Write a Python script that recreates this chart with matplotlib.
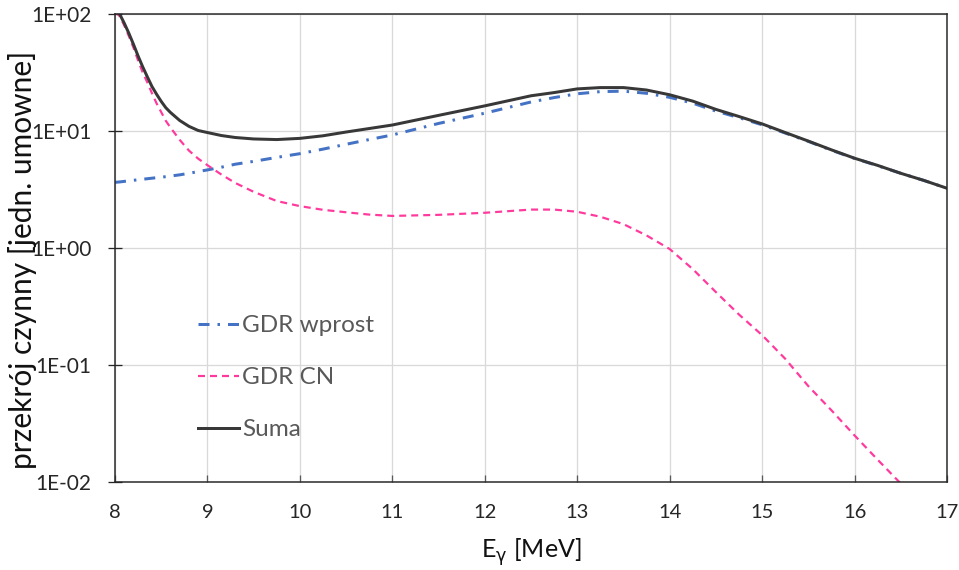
import matplotlib
matplotlib.use("Agg")
import matplotlib.pyplot as plt
from matplotlib.ticker import FixedLocator, FixedFormatter, NullLocator

plt.rcParams['font.family'] = ['Lato', 'DejaVu Sans']
plt.rcParams['lines.scale_dashes'] = False

# ---- data ----
energy = [8.0, 8.05, 8.1, 8.15, 8.2, 8.25, 8.3, 8.35, 8.4, 8.45, 8.5, 8.55, 8.6,
          8.7, 8.8, 8.9, 9.0, 9.15, 9.3, 9.5, 9.75, 10.0, 10.25, 10.5, 10.75,
          11.0, 11.5, 12.0, 12.5, 12.75, 13.0, 13.25, 13.5, 13.75, 14.0, 14.25,
          14.5, 14.75, 15.0, 15.25, 15.5, 15.75, 16.0, 16.25, 16.5, 16.75, 17.0]
gdr_wprost = [3.64, 3.67, 3.71, 3.75, 3.79, 3.83, 3.87, 3.91, 3.95, 3.99, 4.03, 4.07, 4.12,
              4.22, 4.35, 4.5, 4.65, 4.9, 5.2, 5.5, 5.95, 6.4, 7.0, 7.7, 8.45,
              9.25, 11.6, 14.2, 17.7, 19.3, 20.8, 21.7, 21.9, 21.0, 19.4, 17.3,
              14.8, 13.0, 11.3, 9.6, 8.15, 6.85, 5.83, 5.05, 4.35, 3.78, 3.24]
gdr_cn = [104.0, 96.0, 79.8, 64.7, 51.5, 40.0, 31.5, 26.0, 21.0, 17.2, 14.5, 12.2, 10.7,
          8.4, 6.8, 5.8, 5.1, 4.25, 3.6, 3.02, 2.52, 2.28, 2.12, 2.02, 1.93,
          1.88, 1.92, 2.0, 2.13, 2.13, 2.04, 1.85, 1.6, 1.28, 0.98, 0.66,
          0.42, 0.27, 0.18, 0.113, 0.066, 0.041, 0.025, 0.0155, 0.0097, 0.006, 0.0036]
suma = [108.0, 100.0, 83.5, 68.4, 55.0, 43.7, 35.3, 29.0, 24.0, 20.6, 17.9, 15.8, 14.4,
        12.3, 10.96, 10.1, 9.7, 9.15, 8.8, 8.55, 8.45, 8.65, 9.1, 9.8, 10.5,
        11.25, 13.6, 16.4, 20.0, 21.3, 22.9, 23.5, 23.5, 22.4, 20.4, 18.0,
        15.3, 13.3, 11.5, 9.7, 8.2, 6.9, 5.85, 5.08, 4.35, 3.78, 3.24]

x_ticks = [8, 9, 10, 11, 12, 13, 14, 15, 16, 17]
y_ticks = [1e-2, 1e-1, 1e0, 1e1, 1e2]
y_tick_labels = ['1E-02', '1E-01', '1E+00', '1E+01', '1E+02']
series_labels = ['GDR wprost', 'GDR CN', 'Suma']
x_label = 'E$_{\\mathrm{\\gamma}}$ [MeV]'
y_label = 'przekrój czynny [jedn. umowne]'

# ---- figure ----
W, H = 959, 570
fig = plt.figure(figsize=(W / 100, H / 100), dpi=100)
ax = fig.add_axes([115 / W, 1 - 482 / H, (947 - 115) / W, (482 - 14) / H])

px = 0.72  # points per pixel

l1, = ax.plot(energy, gdr_wprost, color='#4472C4', lw=3 * px, label=series_labels[0])
l1.set_dashes([11 * px, 8 * px, 2.5 * px, 8 * px])
l2, = ax.plot(energy, gdr_cn, color='#FF3A9D', lw=2.2 * px, label=series_labels[1])
l2.set_dashes([7 * px, 5 * px])
l3, = ax.plot(energy, suma, color='#383838', lw=3 * px, label=series_labels[2])

ax.set_yscale('log')
ax.set_xlim(8, 17)
ax.set_ylim(1e-2, 1e2)

ax.xaxis.set_major_locator(FixedLocator(x_ticks))
ax.yaxis.set_major_locator(FixedLocator(y_ticks))
ax.yaxis.set_major_formatter(FixedFormatter(y_tick_labels))
ax.yaxis.set_minor_locator(NullLocator())
ax.xaxis.set_minor_locator(NullLocator())

ax.grid(True, which='major', color='#D9D9D9', lw=1.3 * px)
ax.set_axisbelow(True)

for s in ax.spines.values():
    s.set_color('#262626')
    s.set_linewidth(1.5 * px)

ax.tick_params(axis='x', direction='in', length=5, width=1.3 * px, color='#595959',
               labelsize=14.5, labelcolor='#262626', pad=16)
ax.tick_params(axis='y', direction='inout', length=10, width=1.3 * px, color='#262626',
               labelsize=15, labelcolor='#262626', pad=12)

ax.set_xlabel(x_label, fontsize=18, labelpad=11, color='#111111')
ax.set_ylabel(y_label, fontsize=21.5, color='#111111')
ax.yaxis.set_label_coords((37 - 115) / 832, (482 - 260) / 468)

leg = ax.legend(loc='upper left', bbox_to_anchor=(198 / W, 1 - 315 / H),
                bbox_transform=fig.transFigure, frameon=False, fontsize=17.5,
                handlelength=1.7, handletextpad=0.12, labelspacing=1.28,
                borderpad=0, borderaxespad=0)
for t in leg.get_texts():
    t.set_color('#595959')

fig.savefig('out.png', dpi=100)
